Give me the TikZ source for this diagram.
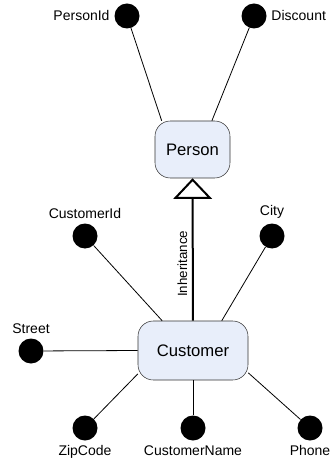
\documentclass[tikz,border=0pt]{standalone}
\usepackage{fontspec}
\setmainfont{Liberation Sans}
\usetikzlibrary{arrows.meta}
\definecolor{entfill}{RGB}{232,238,250}

\begin{document}
\begin{tikzpicture}[x=0.75pt,y=-0.75pt,
  every node/.style={font=\fontsize{10.5}{12}\selectfont},
  attr/.style={circle,fill=black,minimum size=18.75pt,inner sep=0pt,label distance=0pt},
  entity/.style={draw=black!80,fill=entfill,rounded corners=11.5pt,font=\fontsize{12.5}{15}\selectfont}]
\useasboundingbox (0,0) rectangle (335,459);
\node[entity,minimum width=56.25pt,minimum height=42.75pt] (person) at (192.5,149.5) {Person};
\node[entity,minimum width=82.5pt,minimum height=44.25pt] (customer) at (193,350.5) {Customer};
\foreach \n/\x/\y/\s/\t in {pid/127/16/left/PersonId,disc/254/16/right/Discount,cid/85/236/above/CustomerId,city/272/236/above/City,street/31/351/above/Street,zip/85/428/below/ZipCode,cname/193/428/below/CustomerName,phone/310/428/below/Phone}
  \node[attr,label={\s:\t}] (\n) at (\x,\y) {};
\foreach \n/\a in {pid/137,disc/56} \draw[line width=0.6pt] (\n) -- (person.\a);
\foreach \n/\a in {cid/136,city/46,street/west,zip/203,cname/south,phone/338} \draw[line width=0.6pt] (\n) -- (customer.\a);
\draw[line width=1.5pt,-{Triangle[open,length=15.5pt,width=29pt]}] (customer) -- (person) node[pos=0.4,rotate=90,anchor=south,font=\fontsize{10}{12}\selectfont] {Inheritance};
\end{tikzpicture}
\end{document}
